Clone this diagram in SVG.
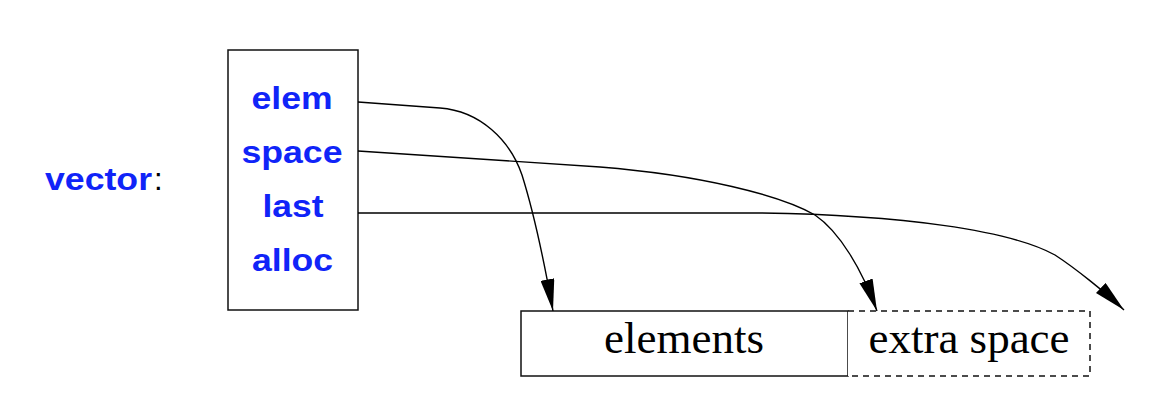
<svg xmlns="http://www.w3.org/2000/svg" width="1172" height="418" viewBox="0 0 1172 418">
<style>
.lbl{font-family:"Liberation Sans",Arial,sans-serif;font-weight:bold;font-size:31px;fill:#1024f8;text-anchor:middle}
.ser{font-family:"Liberation Serif","Times New Roman",serif;font-size:45px;fill:#000;text-anchor:middle}
.box{fill:#fff;stroke:#111;stroke-width:1.5}
.dash{fill:#fff;stroke:#111;stroke-width:1.5;stroke-dasharray:6 5}
.edge{fill:none;stroke:#000;stroke-width:1.4}
</style>
<defs>
<marker id="arr" markerUnits="userSpaceOnUse" markerWidth="32" markerHeight="14" refX="32" refY="7" orient="auto" viewBox="0 0 32 14">
<path d="M0,0 L32,7 L0,14 z" fill="#000"/>
</marker>
</defs>
<rect width="1172" height="418" fill="#fff"/>
<g id="vector-label">
<text x="45" y="190" style="font-family:'Liberation Sans',Arial,sans-serif;font-weight:bold;font-size:31px;fill:#1024f8" textLength="107" lengthAdjust="spacingAndGlyphs">vector</text>
<text x="154" y="190" style="font-family:'Liberation Sans',Arial,sans-serif;font-size:31px;fill:#000">:</text>
</g>
<g id="vector">
<rect class="box" x="228" y="50" width="130" height="260"/>
<text class="lbl" x="292" y="109" textLength="81" lengthAdjust="spacingAndGlyphs">elem</text>
<text class="lbl" x="292" y="163" textLength="101" lengthAdjust="spacingAndGlyphs">space</text>
<text class="lbl" x="293" y="217" textLength="61" lengthAdjust="spacingAndGlyphs">last</text>
<text class="lbl" x="292.5" y="271" textLength="81" lengthAdjust="spacingAndGlyphs">alloc</text>
</g>
<g id="elements">
<rect class="box" x="521" y="311" width="327" height="65"/>
<text class="ser" x="684" y="353">elements</text>
</g>
<g id="extra-space">
<path class="dash" d="M848,311 L1090,311 L1090,376 L848,376"/>
<text class="ser" x="969" y="353">extra space</text>
</g>
<g id="connectors">
<path class="edge" marker-end="url(#arr)" d="M358,102 L440,108 C480,111 510,140 522,175 C533,210 543,255 553,311"/>
<path class="edge" marker-end="url(#arr)" d="M358,151 L600,167 C700,175 780,195 815,215 C840,232 862,270 877,311"/>
<path class="edge" marker-end="url(#arr)" d="M358,213 L760,213 C900,215 1010,230 1055,255 C1075,268 1105,292 1124,310"/>
</g>
</svg>
